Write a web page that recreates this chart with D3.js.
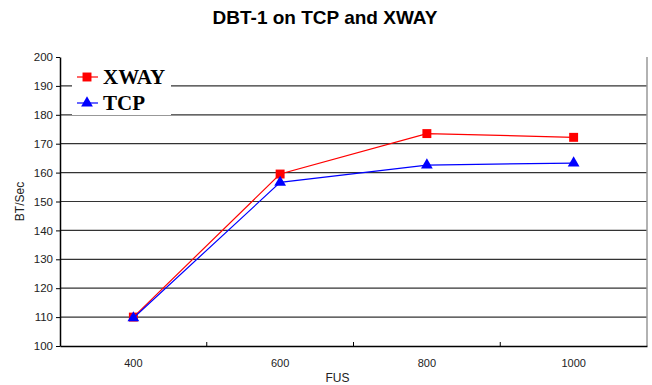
<!DOCTYPE html>
<html>
<head>
<meta charset="utf-8">
<script src="https://cdn.jsdelivr.net/npm/d3@7"></script>
<style>
  body { margin: 0; background: #fff; }
</style>
</head>
<body>
<div id="chart"></div>
<script>
const categories = ["400", "600", "800", "1000"];
const xwayValues = [110, 159.5, 173.5, 172.2];
const tcpValues = [109.7, 156.6, 162.6, 163.3];
const yTicks = [100, 110, 120, 130, 140, 150, 160, 170, 180, 190, 200];

const width = 652, height = 385;
const plotLeft = 60, plotRight = 647, plotTop = 57, plotBottom = 346;
const sans = "Liberation Sans, Arial, sans-serif";

const svg = d3.select("#chart").append("svg")
    .attr("width", width)
    .attr("height", height)
    .style("font-family", sans);

let x = d3.scaleBand().domain(categories).range([plotLeft, plotRight]);
let y = d3.scaleLinear().domain([100, 200]).range([plotBottom, plotTop]);

//Gridlines
svg.selectAll("line.grid")
    .data(yTicks.filter(d => d > 100 && d < 200))
    .enter()
    .append("line")
    .attr("class", "grid")
    .attr("x1", plotLeft).attr("x2", plotRight)
    .attr("y1", d => y(d)).attr("y2", d => y(d))
    .attr("stroke", "#333")
    .attr("stroke-width", 1.2);

//Right border
svg.append("line")
    .attr("x1", plotRight).attr("x2", plotRight)
    .attr("y1", plotTop).attr("y2", plotBottom)
    .attr("stroke", "#999")
    .attr("stroke-width", 1.5);

//Y axis
let yAxis = svg.append("g")
    .attr("transform", `translate(${plotLeft},0)`)
    .call(d3.axisLeft(y).tickValues(yTicks).tickSize(4).tickSizeOuter(0));
yAxis.select(".domain").attr("stroke", "#000").attr("stroke-width", 1.5);
yAxis.selectAll(".tick line").attr("stroke", "#000");
yAxis.selectAll("text").attr("font-size", 11.5).attr("fill", "#222")
    .attr("font-family", sans);

//X axis with inward ticks between categories
let xAxis = svg.append("g")
    .attr("transform", `translate(0,${plotBottom})`)
    .call(d3.axisBottom(x).tickSize(0).tickPadding(13));
xAxis.select(".domain").attr("stroke", "#000").attr("stroke-width", 1.5);
xAxis.selectAll("text").attr("font-size", 11).attr("fill", "#222")
    .attr("font-family", sans);
svg.selectAll("line.xtick")
    .data(categories.slice(1))
    .enter()
    .append("line")
    .attr("class", "xtick")
    .attr("x1", d => x(d)).attr("x2", d => x(d))
    .attr("y1", plotBottom).attr("y2", plotBottom - 4)
    .attr("stroke", "#000");

//Series
const series = [
    {name: "XWAY", values: xwayValues, color: "#ff0000", symbol: d3.symbolSquare, size: 80},
    {name: "TCP", values: tcpValues, color: "#0000ff", symbol: d3.symbolTriangle, size: 60}
];

let line = d3.line()
    .x((d, i) => x(categories[i]) + x.bandwidth() / 2)
    .y(d => y(d));

series.forEach(s => {
    svg.append("path")
        .datum(s.values)
        .attr("d", line)
        .attr("fill", "none")
        .attr("stroke", s.color)
        .attr("stroke-width", 1.2);
    svg.selectAll(null)
        .data(s.values)
        .enter()
        .append("path")
        .attr("d", d3.symbol().type(s.symbol).size(s.size))
        .attr("transform", (d, i) => `translate(${x(categories[i]) + x.bandwidth() / 2},${y(d)})`)
        .attr("fill", s.color);
});

//Legend
let legend = svg.append("g");
legend.append("rect")
    .attr("x", 72).attr("y", 63)
    .attr("width", 99).attr("height", 52)
    .attr("fill", "#fff");
series.forEach((s, i) => {
    let ly = 77 + i * 26;
    legend.append("line")
        .attr("x1", 77).attr("x2", 98)
        .attr("y1", ly).attr("y2", ly)
        .attr("stroke", s.color)
        .attr("stroke-width", 1.2);
    legend.append("path")
        .attr("d", d3.symbol().type(s.symbol).size(s.size))
        .attr("transform", `translate(87,${ly})`)
        .attr("fill", s.color);
    legend.append("text")
        .attr("x", 103).attr("y", ly + 7)
        .style("font-family", "Liberation Serif, Times New Roman, serif")
        .attr("font-weight", "bold")
        .attr("font-size", 21)
        .text(s.name);
});

//Titles
svg.append("text")
    .attr("x", 325).attr("y", 24)
    .attr("text-anchor", "middle")
    .attr("font-weight", "bold")
    .attr("font-size", 19)
    .text("DBT-1 on TCP and XWAY");

svg.append("text")
    .attr("transform", `translate(24,${(plotTop + plotBottom) / 2}) rotate(-90)`)
    .attr("text-anchor", "middle")
    .attr("font-size", 12)
    .attr("fill", "#222")
    .text("BT/Sec");

svg.append("text")
    .attr("x", (plotLeft + plotRight) / 2 - 16).attr("y", 382)
    .attr("text-anchor", "middle")
    .attr("font-size", 12)
    .attr("fill", "#222")
    .text("FUS");
</script>
</body>
</html>
